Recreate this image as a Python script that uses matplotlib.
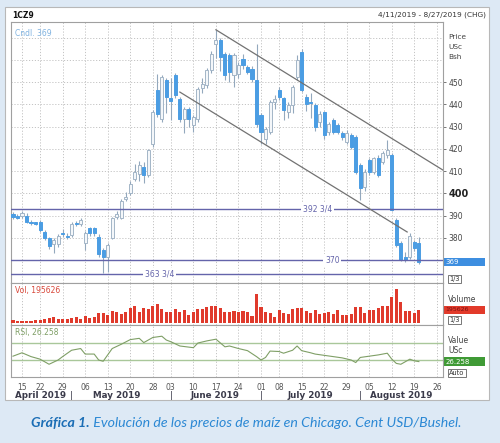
import matplotlib
matplotlib.use("Agg")
import matplotlib.pyplot as plt
import matplotlib.transforms as mtransforms
from matplotlib.patches import Rectangle

# ---------------- data (trading-day index 0 = 11 Apr 2019) ----------------
opens = [390.5, 389.8, 390.0, 390.0, 387.0, 386.8, 387.2, 382.8, 379.8, 377.2,
         377.0, 382.0, 381.0, 381.2, 386.5, 386.3, 377.5, 384.3, 384.3, 380.5,
         374.5, 371.5, 380.0, 389.5, 389.0, 397.5, 400.0, 406.5, 408.7, 411.8,
         408.2, 422.3, 446.4, 433.5, 450.9, 442.8, 453.0, 442.5, 433.5, 438.0,
         430.7, 433.5, 447.5, 448.6, 455.4, 467.2, 468.9, 462.7, 462.0, 453.0,
         453.7, 460.5, 456.7, 456.0, 450.8, 435.0, 424.5, 427.5, 441.0, 446.3,
         442.8, 436.5, 439.7, 452.2, 463.5, 443.3, 441.0, 439.7, 432.0, 436.5,
         427.5, 433.0, 430.7, 427.0, 423.2, 426.0, 425.4, 412.7, 403.0, 415.0,
         409.7, 415.7, 414.2, 417.2, 417.2, 388.0, 377.5, 371.5, 371.5, 378.2,
         377.5]
highs = [391.5, 390.5, 392.0, 391.0, 387.8, 387.3, 387.8, 383.5, 380.5, 380.0,
         381.5, 384.0, 382.0, 387.0, 387.5, 389.0, 383.0, 385.0, 385.0, 381.5,
         375.5, 377.5, 389.5, 392.0, 397.5, 400.5, 405.5, 413.0, 414.5, 414.0,
         420.0, 437.5, 453.7, 453.0, 452.0, 452.0, 454.0, 443.5, 439.0, 439.0,
         435.0, 448.0, 452.0, 456.5, 464.0, 473.5, 470.0, 463.5, 463.0, 463.0,
         459.0, 462.5, 457.5, 457.0, 467.2, 436.0, 430.0, 442.0, 444.0, 448.0,
         443.5, 441.0, 448.5, 462.0, 465.0, 444.5, 445.0, 440.5, 437.0, 437.0,
         432.0, 434.0, 431.5, 428.0, 428.5, 427.0, 426.0, 413.5, 411.0, 416.0,
         416.5, 417.0, 419.0, 424.0, 418.0, 389.0, 378.5, 373.5, 382.0, 379.0,
         380.5]
lows = [388.5, 388.5, 389.0, 386.5, 385.8, 385.8, 382.8, 379.0, 375.0, 373.0,
        376.0, 380.5, 379.5, 380.5, 385.5, 385.5, 374.6, 381.0, 381.0, 371.5,
        364.0, 364.5, 379.5, 388.5, 388.5, 396.5, 399.0, 405.5, 405.5, 404.5,
        407.5, 421.0, 434.5, 432.0, 436.0, 433.0, 443.0, 432.0, 427.0, 430.0,
        427.5, 432.0, 445.0, 447.5, 454.0, 461.0, 455.0, 451.0, 450.0, 448.0,
        452.0, 456.0, 453.5, 450.0, 430.0, 422.0, 422.3, 426.5, 438.0, 442.0,
        433.0, 434.0, 436.0, 451.0, 445.5, 437.0, 434.0, 428.0, 430.0, 424.5,
        426.0, 426.5, 426.5, 424.0, 422.0, 420.0, 408.5, 397.0, 401.0, 408.0,
        408.5, 407.5, 413.0, 416.0, 392.0, 376.0, 369.5, 369.0, 370.5, 374.0,
        368.0]
closes = [389.5, 389.0, 391.0, 387.2, 386.7, 386.4, 383.6, 379.8, 376.2, 379.2,
          380.8, 381.5, 380.5, 386.0, 386.2, 388.2, 382.0, 382.1, 382.0, 372.5,
          371.5, 376.7, 389.0, 390.5, 396.5, 398.5, 404.3, 409.5, 412.7, 408.2,
          419.4, 436.5, 435.8, 452.2, 443.3, 441.5, 444.0, 433.5, 438.0, 433.5,
          434.3, 447.0, 449.0, 455.4, 462.7, 468.9, 461.2, 453.0, 454.5, 462.0,
          457.6, 457.5, 454.5, 451.5, 431.3, 427.5, 429.0, 441.0, 442.5, 443.3,
          437.3, 439.7, 447.7, 459.7, 446.3, 440.3, 440.5, 429.8, 435.8, 426.0,
          431.3, 427.5, 427.7, 425.4, 427.0, 421.0, 409.7, 402.2, 409.7, 409.7,
          415.7, 408.2, 418.0, 419.4, 392.5, 376.7, 370.0, 370.0, 381.0, 375.2,
          369.0]
volumes = [49000, 40000, 40000, 40000, 40000, 44000, 49000, 59000, 74000, 88000,
           59000, 59000, 63000, 74000, 88000, 63000, 113000, 84000, 98000, 147000,
           147000, 122000, 187000, 162000, 137000, 172000, 220000, 260000, 172000, 220000,
           206000, 260000, 284000, 210000, 172000, 172000, 206000, 162000, 196000, 122000,
           172000, 210000, 210000, 235000, 260000, 254000, 220000, 172000, 172000, 187000,
           172000, 187000, 172000, 113000, 426000, 245000, 162000, 151000, 98000, 196000,
           151000, 137000, 210000, 220000, 220000, 187000, 151000, 201000, 137000, 147000,
           172000, 137000, 196000, 122000, 122000, 137000, 235000, 245000, 151000, 201000,
           196000, 225000, 260000, 260000, 392000, 504000, 309000, 187000, 187000, 151000,
           195626]
rsi_idx = [0, 2, 4, 6, 8, 10, 11, 13, 15, 16, 18, 19, 20, 22, 24, 26, 28, 29, 31, 33,
           34, 35, 37, 40, 41, 43, 45, 47, 48, 50, 52, 54, 55, 56, 57, 59, 60, 62, 63, 64,
           66, 67, 69, 71, 73, 75, 76, 77, 79, 81, 83, 84, 85, 86, 88, 89, 90]
rsi_val = [39, 47, 38, 32, 20, 30, 38, 53, 57, 44, 44, 30, 27, 57, 67, 78, 81, 71, 83, 86,
           77, 73, 63, 59, 70, 75, 79, 61, 63, 57, 52, 38, 30, 36, 51, 50, 46, 53, 63, 52,
           47, 44, 41, 38, 35, 30, 24, 36, 39, 42, 46, 32, 22, 20, 32, 28, 26.258]
rsi_levels = [70, 30]

tick_idx = [2, 6, 11, 16, 21, 26, 31, 35, 40, 45, 50, 55, 59, 64, 69, 74, 79, 84, 89, 94]
tick_labels = ['15', '22', '29', '06', '13', '20', '28', '03', '10', '17',
               '24', '01', '08', '15', '22', '29', '05', '12', '19', '26']
month_names = ['April 2019', 'May 2019', 'June 2019', 'July 2019', 'August 2019']
month_centers = [6.2, 23.0, 44.9, 65.9, 86.0]
month_breaks = [13.0, 35.2, 55.1, 77.0]

price_ticks = [450, 440, 430, 420, 410, 400, 390, 380]
price_grid = [370, 380, 390, 400, 410, 420, 430, 440, 450, 460, 470]
levels = [392.75, 370.0, 363.75]
level_labels = ['392 3/4', '370', '363 3/4']
level_label_idx = [67.5, 70.8, 32.5]
upper_channel_idx = [45.0, 96.0]
upper_channel_price = [473.5, 409.6]
lower_channel_idx = [37.0, 87.4]
lower_channel_price = [445.5, 382.6]
last_price = 369
last_volume = 195626
last_rsi = 26.258

# ---------------- layout helpers (pixel -> figure fraction) ----------------
W, H = 500, 443
def fx(px): return px / W
def fy(py): return 1 - py / H

BG = '#dde9f5'
GRID = '#c4c4c4'
FRAME = '#a0a0a0'
LEVEL = '#6464aa'
TXT = '#444444'

fig = plt.figure(figsize=(5, 4.43), dpi=100)
fig.patch.set_facecolor(BG)
panel = Rectangle((fx(5), fy(400)), fx(489) - fx(5), fy(7) - fy(400),
                  transform=fig.transFigure, facecolor='white',
                  edgecolor='#b8b8b8', lw=0.8, zorder=-10)
fig.patches.append(panel)

L, R = 11, 443
ax_p = fig.add_axes([fx(L), fy(283), fx(R) - fx(L), fy(22) - fy(283)])
ax_v = fig.add_axes([fx(L), fy(325), fx(R) - fx(L), fy(283) - fy(325)], sharex=ax_p)
ax_r = fig.add_axes([fx(L), fy(377), fx(R) - fx(L), fy(325) - fy(377)], sharex=ax_p)

n = len(closes)
idx = list(range(n))
for ax in (ax_p, ax_v, ax_r):
    ax.set_facecolor('white')
    for s in ax.spines.values():
        s.set_color(FRAME)
        s.set_linewidth(0.8)
    for t in tick_idx:
        ax.axvline(t, color=GRID, lw=0.7, ls=(0, (1.2, 1.8)), zorder=0)
    ax.tick_params(axis='x', length=0, labelbottom=False)

ax_p.set_xlim(-0.44, 95.35)

# ---------------- price panel ----------------
for g in price_grid:
    ax_p.axhline(g, color=GRID, lw=0.7, ls=(0, (1.2, 1.8)), zorder=0)

up = [c >= o for o, c in zip(opens, closes)]
body_bottom = [min(o, c) for o, c in zip(opens, closes)]
body_h = [max(abs(c - o), 0.5) for o, c in zip(opens, closes)]
face = ['#f4f7fa' if u else '#4b9de3' for u in up]
edge = ['#a3b5c7' if u else '#4b9de3' for u in up]
ax_p.vlines(idx, lows, highs, color='#93a8bd', lw=0.8, zorder=2)
ax_p.bar(idx, body_h, bottom=body_bottom, width=0.68, color=face,
         edgecolor=edge, linewidth=0.7, zorder=3)

for lv, lab, li in zip(levels, level_labels, level_label_idx):
    ax_p.axhline(lv, color=LEVEL, lw=1.0, zorder=4)
    ax_p.text(li, lv, lab, fontsize=5.5, color=LEVEL, ha='center', va='center',
              zorder=5, bbox=dict(facecolor='white', edgecolor='none', pad=1.2))

ax_p.plot(upper_channel_idx, upper_channel_price, color='#727272', lw=0.9, zorder=4)
ax_p.plot(lower_channel_idx, lower_channel_price, color='#727272', lw=0.9, zorder=4)

ax_p.set_ylim(359.66, 477.0)
ax_p.yaxis.tick_right()
ax_p.set_yticks(price_ticks)
ax_p.set_yticklabels([str(t) for t in price_ticks])
ax_p.tick_params(axis='y', length=2.5, width=0.7, color='#777777', pad=1.5,
                 labelsize=5.5, labelcolor=TXT)
for lab in ax_p.get_yticklabels():
    if lab.get_text() == '400':
        lab.set_fontweight('bold')
        lab.set_fontsize(7)
        lab.set_color('#222222')

ax_p.text(0.01, 0.975, 'Cndl. %d' % last_price, transform=ax_p.transAxes,
          fontsize=5.5, color='#7fb2e0', ha='left', va='top')

tp = mtransforms.blended_transform_factory(ax_p.transAxes, ax_p.transData)
ax_p.add_patch(Rectangle((1.003, last_price - 1.85), 0.0945, 3.7, transform=tp,
                         facecolor='#3d8ee0', edgecolor='none', clip_on=False))
ax_p.text(1.006, last_price, str(last_price), transform=tp, fontsize=5,
          color='white', ha='left', va='center', clip_on=False)
ax_p.text(1.014, 361.5, '1/3', transform=tp, fontsize=4.8, color='#333333',
          ha='left', va='center', clip_on=False,
          bbox=dict(facecolor='white', edgecolor='#777777', lw=0.7, pad=0.8))

# ---------------- volume panel ----------------
ax_v.bar(idx, volumes, width=0.68, color='#e03a2c', zorder=3)
ax_v.set_ylim(-25000, 592000)
ax_v.set_yticks([])
ax_v.text(0.01, 0.93, 'Vol, %d' % last_volume, transform=ax_v.transAxes,
          fontsize=5.5, color='#d8483a', ha='left', va='top')
tv = mtransforms.blended_transform_factory(ax_v.transAxes, ax_v.transData)
ax_v.add_patch(Rectangle((1.003, last_volume - 60000), 0.0945, 120000, transform=tv,
                         facecolor='#e23a2a', edgecolor='none', clip_on=False))
ax_v.text(1.006, last_volume, str(last_volume), transform=tv, fontsize=4.5,
          color='#7a1010', ha='left', va='center', clip_on=False)
ax_v.text(1.012, 0.6, 'Volume', transform=ax_v.transAxes, fontsize=5.5,
          color=TXT, ha='left', va='center', clip_on=False)
ax_v.text(1.014, 0.12, '1/3', transform=ax_v.transAxes, fontsize=4.8,
          color='#333333', ha='left', va='center', clip_on=False,
          bbox=dict(facecolor='white', edgecolor='#777777', lw=0.7, pad=0.8))

# ---------------- RSI panel ----------------
for lv in rsi_levels:
    ax_r.axhline(lv, color='#a9c79a', lw=1.0, zorder=1)
ax_r.plot(rsi_idx, rsi_val, color='#7f9f66', lw=0.8, zorder=3)
ax_r.set_ylim(-10, 112.4)
ax_r.set_yticks([])
ax_r.text(0.01, 0.95, 'RSI, %.3f' % last_rsi, transform=ax_r.transAxes,
          fontsize=5.5, color='#7f9f66', ha='left', va='top')
tr = mtransforms.blended_transform_factory(ax_r.transAxes, ax_r.transData)
ax_r.add_patch(Rectangle((1.003, last_rsi - 10.5), 0.0945, 21, transform=tr,
                         facecolor='#3f9a35', edgecolor='none', clip_on=False))
ax_r.text(1.006, last_rsi, '%.3f' % last_rsi, transform=tr, fontsize=5,
          color='white', ha='left', va='center', clip_on=False)
ax_r.text(1.012, 0.71, 'Value', transform=ax_r.transAxes, fontsize=5.5,
          color=TXT, ha='left', va='center', clip_on=False)
ax_r.text(1.012, 0.51, 'USc', transform=ax_r.transAxes, fontsize=5.5,
          color=TXT, ha='left', va='center', clip_on=False)
ax_r.text(1.014, 0.07, 'Auto', transform=ax_r.transAxes, fontsize=4.8,
          color='#333333', ha='left', va='center', clip_on=False,
          bbox=dict(facecolor='white', edgecolor='#777777', lw=0.7, pad=0.8))

ax_r.set_xticks(tick_idx)
ax_r.set_xticklabels(tick_labels)
ax_r.tick_params(axis='x', length=0, pad=4, labelsize=5.5, labelcolor='#555555',
                 labelbottom=True)

tm = mtransforms.blended_transform_factory(ax_r.transData, fig.transFigure)
for name, c in zip(month_names, month_centers):
    ax_r.text(c, fy(395), name, transform=tm, fontsize=6.3, fontweight='bold',
              color='#3a3a4a', ha='center', va='center', clip_on=False)
for b in month_breaks:
    ax_r.text(b, fy(395), '|', transform=tm, fontsize=6.5, color='#3a3a4a',
              ha='center', va='center', clip_on=False)

# ---------------- header / right-hand labels ----------------
fig.text(fx(12), fy(15), '1CZ9', fontsize=5.5, fontweight='bold', color='#111111',
         ha='left', va='center')
fig.text(fx(486), fy(15), '4/11/2019 - 8/27/2019 (CHG)', fontsize=5.3,
         color='#333333', ha='right', va='center')
for t, yy in zip(['Price', 'USc', 'Bsh'], [37, 47, 57]):
    fig.text(fx(448), fy(yy), t, fontsize=5.3, color=TXT, ha='left', va='center')

# ---------------- caption ----------------
cap1 = fig.text(fx(31), fy(423), 'Gráfica 1.', fontsize=10.2, fontstyle='italic',
                fontweight='bold', color='#1a6db5', ha='left', va='center',
                family=['Lato', 'DejaVu Sans'])
ax_r.annotate(' Evolución de los precios de maíz en Chicago. Cent USD/Bushel.',
              xy=(1, 0.5), xycoords=cap1, fontsize=10.2, fontstyle='italic',
              color='#2b88d4', ha='left', va='center',
              family=['Lato', 'DejaVu Sans'], annotation_clip=False)

fig.savefig('out.png', dpi=100, facecolor=BG)
